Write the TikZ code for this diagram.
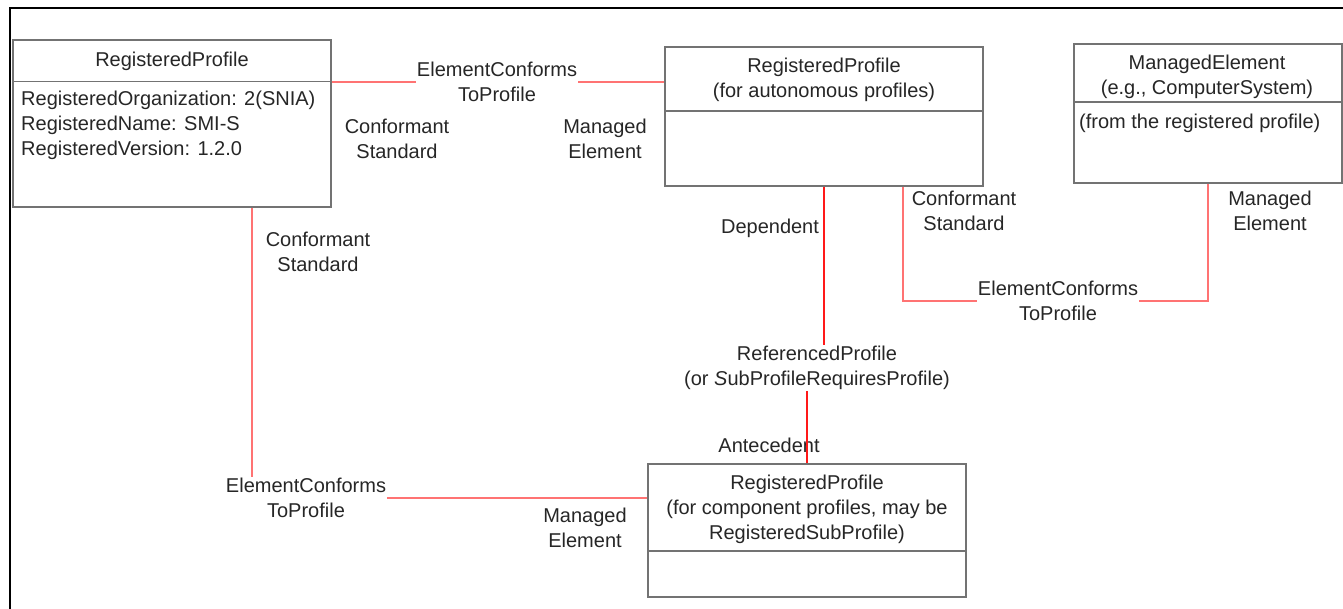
\documentclass[tikz,border=0pt]{standalone}
\usepackage{fontspec}
\setmainfont{Liberation Sans}
\begin{document}
\begin{tikzpicture}[x=1pt,y=-1pt,
  every node/.style={font=\fontsize{20}{25}\selectfont, text=black!85, inner sep=1pt},
  box/.style={draw=black!55, line width=1.4pt, fill=white, inner sep=0pt},
  divider/.style={draw=black!55, line width=1.4pt},
  txt/.style={align=center},
  lft/.style={align=left, anchor=west},
  pinkline/.style={draw=red!55, line width=2pt},
  redline/.style={draw=red!90, line width=2pt}]
\useasboundingbox (0,0) rectangle (1343,609);
\draw[line width=1.5pt] (10,609) -- (10,8) -- (1343,8);

% boxes
\node[box, minimum width=318pt, minimum height=167pt] (b1) at (172,123.5) {};
\draw[divider] (b1.west |- 0,81.5) -- (b1.east |- 0,81.5);
\node[box, minimum width=318pt, minimum height=139pt] (b2) at (824,116.5) {};
\draw[divider] (b2.west |- 0,111) -- (b2.east |- 0,111);
\node[box, minimum width=268pt, minimum height=139pt] (b3) at (1208,113.5) {};
\draw[divider] (b3.west |- 0,102) -- (b3.east |- 0,102);
\node[box, minimum width=318pt, minimum height=133pt] (b4) at (807,530.5) {};
\draw[divider] (b4.west |- 0,551) -- (b4.east |- 0,551);

% box texts
\node[txt] (t1) at (172,61) {RegisteredProfile};
\node[lft] (a1) at (20,125) {RegisteredOrganization: 2(SNIA)\\RegisteredName: SMI-S\\RegisteredVersion: 1.2.0};
\node[txt] (t2) at (824,80) {RegisteredProfile\\(for autonomous profiles)};
\node[txt] (t3) at (1207,77) {ManagedElement\\(e.g., ComputerSystem)};
\node[lft] (a3) at (1078,123) {(from the registered profile)};
\node[txt] (t4) at (807,509) {RegisteredProfile\\(for component profiles, may be\\RegisteredSubProfile)};

% association labels
\node[txt] (ecp1) at (497,82) {ElementConforms\\ToProfile};
\node[txt] (ecp2) at (306,498) {ElementConforms\\ToProfile};
\node[txt] (ecp3) at (1058,301) {ElementConforms\\ToProfile};
\node[txt] (rp) at (817,368) {ReferencedProfile\\(or \textit{S}ubProfileRequiresProfile)};

% role labels
\node[txt] (r1) at (397,138.5) {Conformant\\Standard};
\node[txt] (r2) at (605,138.5) {Managed\\Element};
\node[txt] (r3) at (318,252) {Conformant\\Standard};
\node[txt] (r4) at (585,528) {Managed\\Element};
\node[txt] (r5) at (770,228) {Dependent};
\node[txt] (r6) at (769,445) {Antecedent};
\node[txt] (r7) at (964,211) {Conformant\\Standard};
\node[txt] (r8) at (1270,211) {Managed\\Element};

% connectors
\draw[pinkline] (b1.east |- ecp1.west) -- (ecp1.west);
\draw[pinkline] (ecp1.east) -- (b2.west |- ecp1.east);
\draw[pinkline] ([xshift=80pt]b1.south) -- ([xshift=80pt]b1.south |- ecp2.north);
\draw[pinkline] (ecp2.east) -- (b4.west |- ecp2.east);
\draw[redline] (b2.south) -- (b2.south |- rp.north);
\draw[redline] (rp.south -| b4.north) -- (b4.north);
\draw[pinkline] ([xshift=79pt]b2.south) |- (ecp3.west);
\draw[pinkline] (ecp3.east) -| (b3.south);
\end{tikzpicture}
\end{document}
